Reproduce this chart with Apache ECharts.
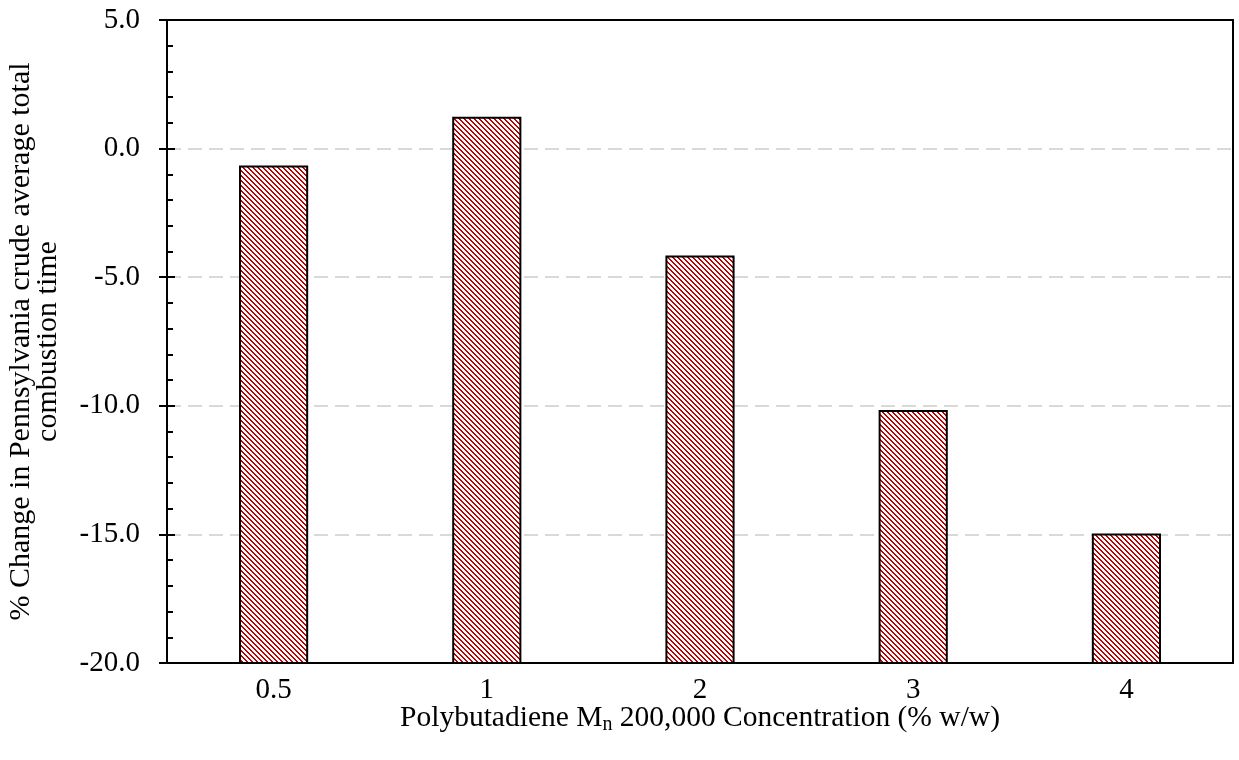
<!DOCTYPE html>
<html>
<head>
<meta charset="utf-8">
<script src="https://cdn.jsdelivr.net/npm/echarts@6/dist/echarts.min.js"></script>
<style>
  html, body { margin: 0; padding: 0; background: #fff; }
  #chart { width: 1239px; height: 760px; }
</style>
</head>
<body>
<div id="chart"></div>
<script>
// Polybutadiene (Mn 200,000) concentration, % w/w
const categories = ['0.5', '1', '2', '3', '4'];
// % change in average total combustion time
const changeValues = [-0.7, 1.2, -4.2, -10.2, -15.0];
// value axis range and step
const yMin = -20;
const yMax = 5;
const yStep = 5;

const FONT = '"Liberation Serif", "Times New Roman", serif';

// diagonal red hatching tile (lines running top-left to bottom-right)
function makeHatch() {
  const c = document.createElement('canvas');
  const n = 5;
  c.width = n; c.height = n;
  const ctx = c.getContext('2d');
  ctx.fillStyle = '#ffffff';
  ctx.fillRect(0, 0, n, n);
  ctx.fillStyle = '#c00000';
  for (let i = 0; i < n; i++) {
    ctx.fillRect(i, i, 1, 1);
    ctx.fillRect((i + 1) % n, i, 1, 1);
  }
  return c;
}
const hatch = { image: makeHatch(), repeat: 'repeat' };

const chart = echarts.init(document.getElementById('chart'), null, { renderer: 'canvas' });

const tickLabel = { color: '#000', fontFamily: FONT, fontSize: 29 };
const frameLine = { show: true, onZero: false, lineStyle: { color: '#000', width: 2 } };

chart.setOption({
  animation: false,
  backgroundColor: '#fff',
  grid: { left: 167, right: 6, top: 20, bottom: 97, outerBoundsMode: 'none', containLabel: false },
  xAxis: [{
    type: 'category',
    data: categories,
    boundaryGap: true,
    axisLine: frameLine,
    axisTick: { show: false },
    axisLabel: Object.assign({ margin: 13 }, tickLabel),
    name: '{a|Polybutadiene M}{s|n}{a| 200,000 Concentration (% w/w)}',
    nameLocation: 'middle',
    nameGap: 38,
    nameMoveOverlap: false,
    nameTextStyle: {
      rich: {
        a: { fontFamily: FONT, fontSize: 29.5, color: '#000', lineHeight: 34 },
        s: { fontFamily: FONT, fontSize: 20, color: '#000', verticalAlign: 'bottom', padding: [13, 0, 0, 0], lineHeight: 34 }
      }
    },
    splitLine: { show: false },
    z: 5
  }, {
    // top frame edge
    type: 'category',
    data: categories,
    position: 'top',
    axisLine: frameLine,
    axisTick: { show: false },
    axisLabel: { show: false },
    splitLine: { show: false },
    z: 5
  }],
  yAxis: [{
    type: 'value',
    min: yMin, max: yMax, interval: yStep,
    axisLine: frameLine,
    axisTick: { show: true, inside: true, length: 8, lineStyle: { color: '#000', width: 2 } },
    minorTick: { show: true, splitNumber: 5, length: 6, lineStyle: { color: '#000', width: 2 } },
    axisLabel: Object.assign({ margin: 27, formatter: v => v.toFixed(1) }, tickLabel),
    splitLine: {
      show: true, showMinLine: false, showMaxLine: false,
      lineStyle: { color: '#d9d9d9', width: 2, type: [14, 7] }
    },
    name: '% Change in Pennsylvania crude average total\ncombustion time',
    nameLocation: 'middle',
    nameGap: 105,
    nameMoveOverlap: false,
    nameTextStyle: { fontFamily: FONT, fontSize: 30, color: '#000', lineHeight: 27 }
  }, {
    // outward halves of the major ticks
    type: 'value',
    position: 'left',
    offset: 0,
    min: yMin, max: yMax, interval: yStep,
    axisLine: { show: false },
    axisTick: { show: true, inside: false, length: 8, lineStyle: { color: '#000', width: 2 } },
    axisLabel: { show: false },
    splitLine: { show: false },
    z: 5
  }, {
    // right frame edge
    type: 'value',
    position: 'right',
    offset: 0,
    min: yMin, max: yMax, interval: yStep,
    axisLine: frameLine,
    axisTick: { show: false },
    axisLabel: { show: false },
    splitLine: { show: false },
    z: 5
  }],
  series: [{
    type: 'custom',
    z: 2,
    data: changeValues.map((v, i) => [i, v]),
    encode: { x: 0, y: 1 },
    renderItem: function (params, api) {
      const idx = api.value(0);
      const v = api.value(1);
      const top = api.coord([idx, v]);
      const base = api.coord([idx, yMin]);
      const w = api.size([1, 0])[0] * 0.315;
      return {
        type: 'rect',
        shape: { x: top[0] - w / 2, y: top[1], width: w, height: base[1] - top[1] },
        style: { fill: hatch, stroke: '#000', lineWidth: 2 }
      };
    }
  }]
});
</script>
</body>
</html>
